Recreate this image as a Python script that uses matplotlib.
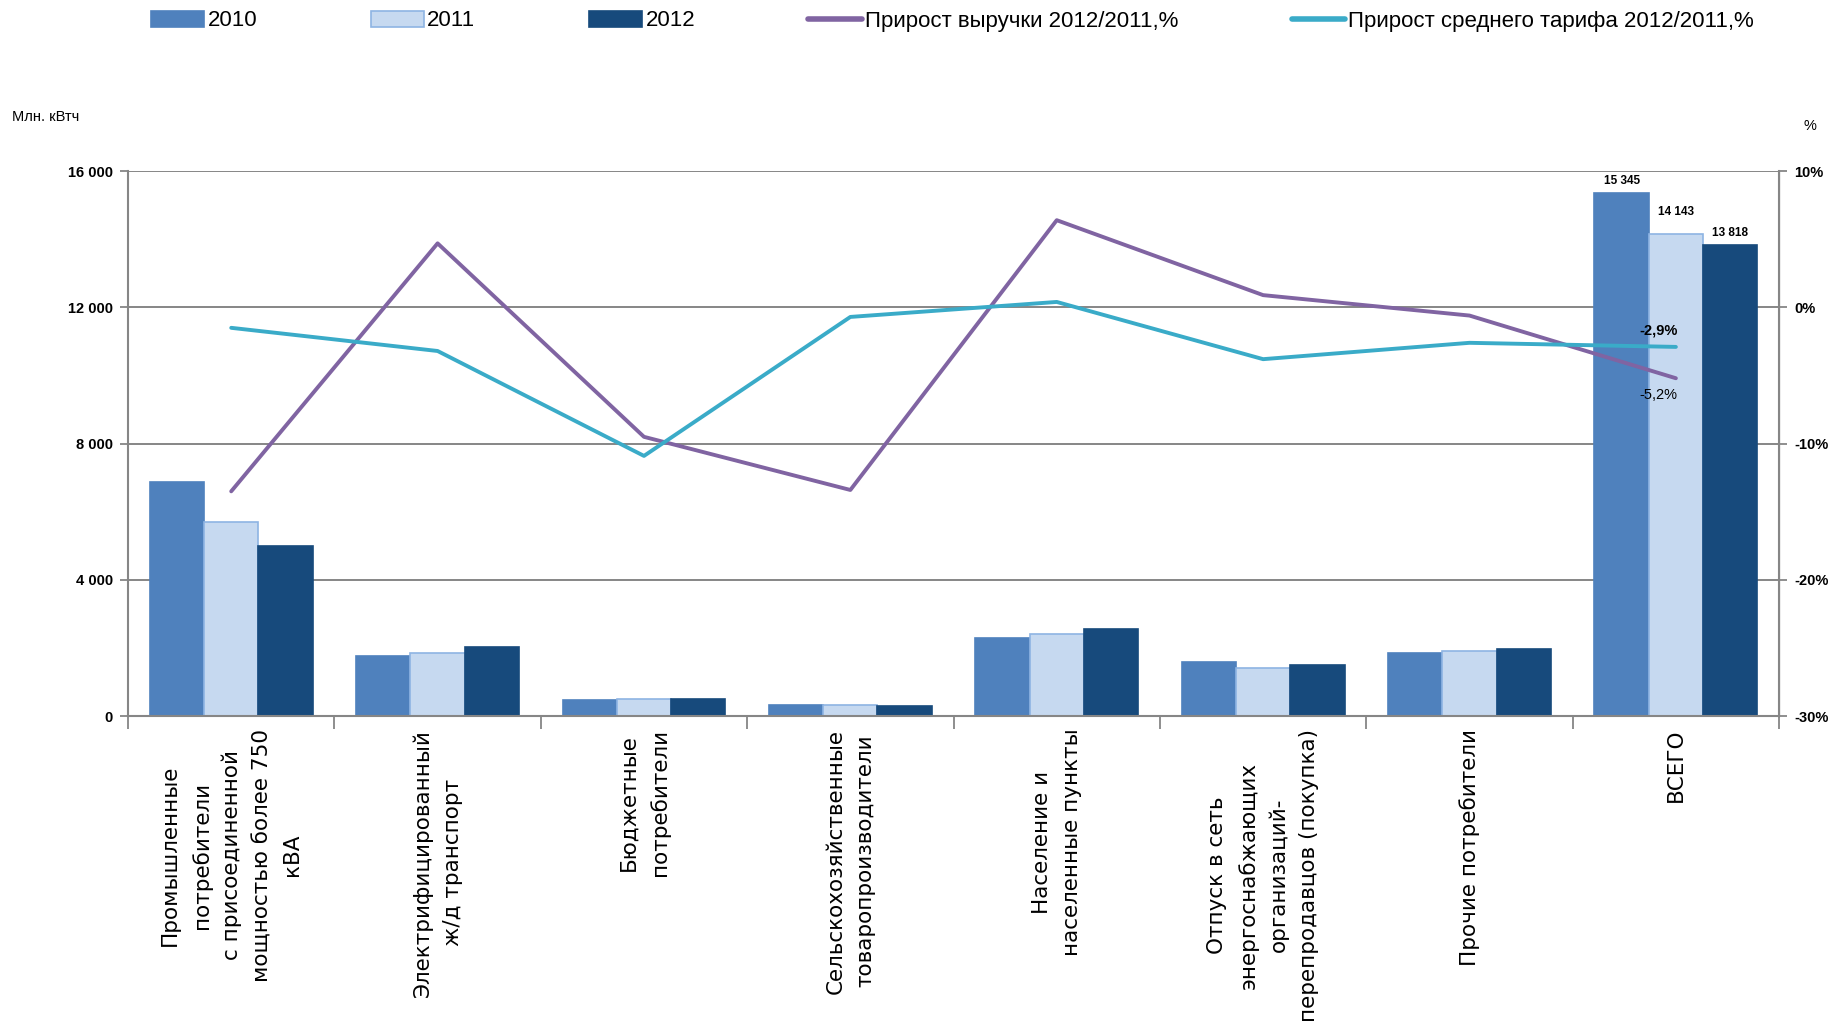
import numpy as np
import matplotlib.pyplot as plt
from matplotlib.ticker import FuncFormatter

# ---- data ----
categories = [
    'Промышленные\nпотребители\nс присоединенной\nмощностью более 750\nкВА',
    'Электрифицированный\nж/д транспорт',
    'Бюджетные\nпотребители',
    'Сельскохозяйственные\nтоваропроизводители',
    'Население и\nнаселенные пункты',
    'Отпуск в сеть\nэнергоснабжающих\nорганизаций-\nперепродавцов (покупка)',
    'Прочие потребители',
    'ВСЕГО',
]
years = ['2010', '2011', '2012']
v2010 = [6880, 1780, 480, 320, 2280, 1590, 1840, 15345]
v2011 = [5690, 1860, 490, 330, 2420, 1410, 1920, 14143]
v2012 = [5000, 2020, 510, 300, 2570, 1490, 1970, 13818]
revenue_growth = [-13.5, 4.7, -9.5, -13.4, 6.4, 0.9, -0.6, -5.2]   # %
tariff_growth = [-1.5, -3.2, -10.9, -0.7, 0.4, -3.8, -2.6, -2.9]   # %
line_names = ['Прирост выручки 2012/2011,%', 'Прирост среднего тарифа 2012/2011,%']
left_ticks = [0, 4000, 8000, 12000, 16000]
right_ticks = [-30, -20, -10, 0, 10]

# ---- style ----
c_bars = ['#4F81BD', '#C6D9F0', '#174A7C']
c_edges = ['#4F81BD', '#8EB4E3', '#174A7C']
c_rev = '#8064A2'
c_tar = '#3AABC8'
grey = '#868686'
small = ['Liberation Sans', 'DejaVu Sans']

fig = plt.figure(figsize=(18.29, 10.26), dpi=100)
ax = fig.add_axes([0.070, 0.302, 0.9027, 0.5312])
ax2 = ax.twinx()

x = np.arange(len(categories))
w = 0.263
bars = []
for i, vals in enumerate([v2010, v2011, v2012]):
    b = ax.bar(x + (i - 1) * w, vals, w, color=c_bars[i], edgecolor=c_edges[i],
               linewidth=1.2, label=years[i], zorder=2)
    bars.append(b)

ax.set_xlim(-0.5, len(categories) - 0.5)
ax.set_ylim(0, 16000)
ax.set_yticks(left_ticks)
ax.yaxis.set_major_formatter(FuncFormatter(lambda v, p: f'{int(v):,}'.replace(',', ' ')))
ax.grid(axis='y', color=grey, linewidth=1.4, zorder=0)
ax.set_axisbelow(True)

# category ticks at the boundaries, labels in the middle
ax.set_xticks(x)
ax.set_xticklabels(categories, rotation=90, ha='center', va='top',
                   multialignment='center', fontsize=15.5, family='DejaVu Sans',
                   linespacing=1.62)
ax.set_xticks(np.arange(len(categories) + 1) - 0.5, minor=True)
ax.tick_params(axis='x', which='major', length=0, pad=9)
ax.tick_params(axis='x', which='minor', length=9, width=1.3, color=grey)
ax.tick_params(axis='y', length=6, width=1.3, color=grey, pad=5)
for lab in ax.get_yticklabels():
    lab.set_family(small)
    lab.set_fontweight('bold')
    lab.set_fontsize(10.5)

ax.spines['top'].set_visible(False)
ax2.spines['top'].set_visible(False)
for s in ['left', 'bottom']:
    ax.spines[s].set_color(grey)
    ax.spines[s].set_linewidth(1.5)
ax2.spines['right'].set_color(grey)
ax2.spines['right'].set_linewidth(1.5)
ax2.spines['left'].set_visible(False)
ax2.spines['bottom'].set_visible(False)

# ---- lines on the right axis ----
l1, = ax2.plot(x, revenue_growth, color=c_rev, linewidth=2.8, label=line_names[0],
               solid_capstyle='round', zorder=3)
l2, = ax2.plot(x, tariff_growth, color=c_tar, linewidth=2.8, label=line_names[1],
               solid_capstyle='round', zorder=3)
ax2.set_ylim(-30, 10)
ax2.set_yticks(right_ticks)
ax2.yaxis.set_major_formatter(FuncFormatter(lambda v, p: f'{int(v)}%'))
ax2.tick_params(axis='y', length=6, width=1.3, color=grey, pad=5)
for lab in ax2.get_yticklabels():
    lab.set_family(small)
    lab.set_fontweight('bold')
    lab.set_fontsize(10.5)

# ---- data labels for ВСЕГО ----
last = len(categories) - 1
offsets = [5, 12, 5]
for i, vals in enumerate([v2010, v2011, v2012]):
    ax.annotate(f'{vals[last]:,}'.replace(',', ' '), (x[last] + (i - 1) * w, vals[last]),
                xytext=(0, offsets[i]), textcoords='offset points', ha='center', va='bottom',
                fontsize=8.5, fontweight='bold', family=small)
ax2.annotate(f'{tariff_growth[last]:.1f}%'.replace('.', ','), (x[last], tariff_growth[last]),
             xytext=(1, 7), textcoords='offset points', ha='right', va='bottom',
             fontsize=10.5, fontweight='bold', family=small)
ax2.annotate(f'{revenue_growth[last]:.1f}%'.replace('.', ','), (x[last], revenue_growth[last]),
             xytext=(1, -7), textcoords='offset points', ha='right', va='top',
             fontsize=10.5, family=small)

# ---- axis titles ----
fig.text(12 / 1829, 1 - 117 / 1026, 'Млн. кВтч', fontsize=10.5, family=small, va='center')
fig.text(1804 / 1829, 1 - 126 / 1026, '%', fontsize=10.5, family=small, va='center')

# ---- legend ----
handles = bars + [l1, l2]
labels = years + line_names
leg = fig.legend(handles, labels, loc='center left', bbox_to_anchor=(151 / 1829, 1 - 21 / 1026),
                 ncol=5, frameon=False, prop={'family': small, 'size': 16},
                 handlelength=2.4, handletextpad=0.15, columnspacing=5.1,
                 borderpad=0, borderaxespad=0)
for h in leg.legend_handles[3:]:
    h.set_linewidth(4)

fig.savefig('out.png', dpi=100)
